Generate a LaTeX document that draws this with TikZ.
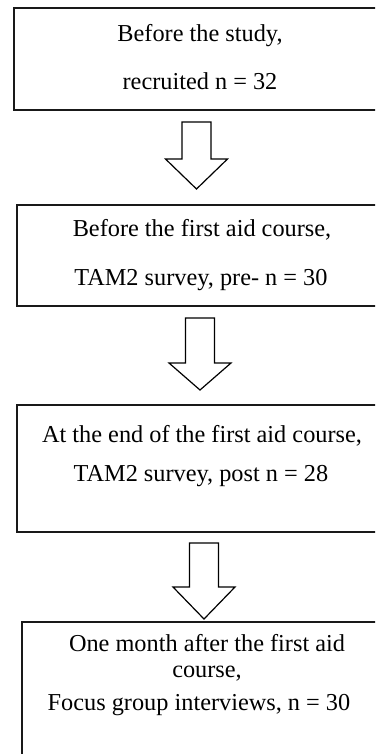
\documentclass[tikz,border=0pt]{standalone}
\usepackage{fontspec}
\setmainfont{Liberation Serif}
\usetikzlibrary{positioning}
\colorlet{frameC}{black!90}
% block arrow: centre x, shaft top, head y, tip y
\newcommand{\flowarrow}[4]{%
  \draw[blockarrow] (#1-14.5,#2) -- (#1+14.5,#2) -- (#1+14.5,#3) -- (#1+31,#3)
    -- (#1,#4) -- (#1-31,#3) -- (#1-14.5,#3) -- cycle;}

\begin{document}
\begin{tikzpicture}[x=1pt,y=-1pt,
    stagebox/.style={draw=frameC, line width=1.7pt},
    blockarrow/.style={draw=black, line width=1.2pt, fill=white, line join=miter},
    stagetext/.style={anchor=base, inner sep=0pt, font=\fontsize{24.3}{29}\selectfont}]
      \useasboundingbox (0,0) rectangle (375,754);
      \clip (0,0) rectangle (375,754);

      % --- stage 1: before the study ---
      \draw[stagebox, line width=2pt] (14,8) rectangle (420,110);
      \node[stagetext] (s1a) at (200,42) {Before the study,};
      \node[stagetext] (s1b) at (200,90) {recruited n = 32};

      \flowarrow{196.5}{122}{159}{189}

      % --- stage 2: before the course ---
      \draw[stagebox] (17,205) rectangle (420,306);
      \node[stagetext] (s2a) at (202,236.5) {Before the first aid course,};
      \node[stagetext] (s2b) at (201,285) {TAM2 survey, pre- n = 30};

      \flowarrow{200}{318}{363}{390}

      % --- stage 3: end of the course ---
      \draw[stagebox] (17,405) rectangle (420,532);
      \node[stagetext] (s3a) at (202,442.5) {At the end of the first aid course,};
      \node[stagetext] (s3b) at (201,481.5) {TAM2 survey, post n = 28};

      \flowarrow{204}{543}{587}{619}

      % --- stage 4: one month after ---
      \draw[stagebox] (22,622) rectangle (420,800);
      \node[stagetext] (s4a) at (207,651.5) {One month after the first aid};
      \node[stagetext] (s4b) at (207,677) {course,};
      \node[stagetext] (s4c) at (199,710) {Focus group interviews, n = 30};
    \end{tikzpicture}
\end{document}
